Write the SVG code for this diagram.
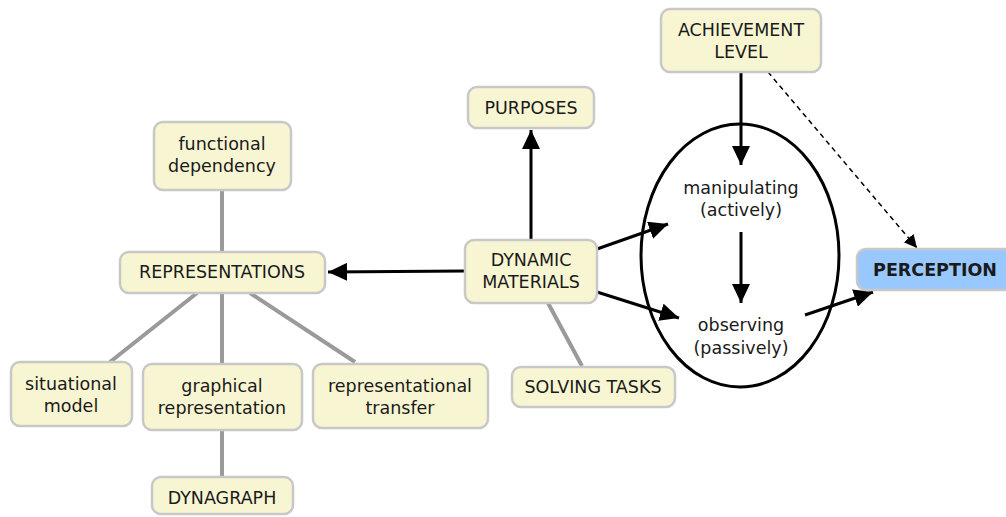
<svg xmlns="http://www.w3.org/2000/svg" width="1006" height="517" viewBox="0 0 1006 517">
<defs>
<style>
.box{fill:#f8f6d2;stroke:#c8c8c8;stroke-width:2.5}
.blue{fill:#99c8ff;stroke:#c8c8c8;stroke-width:2.5}
text{font-family:"DejaVu Sans",Verdana,sans-serif;font-size:17.5px;fill:#1a1a1a;text-anchor:middle}
.b{font-weight:bold}
.g{stroke:#9a9a9a;stroke-width:4;fill:none}
.a{stroke:#000;stroke-width:3;fill:none}
.d{stroke:#000;stroke-width:1.5;fill:none;stroke-dasharray:5,4}
</style>
<marker id="ah" markerUnits="userSpaceOnUse" markerWidth="20" markerHeight="18" refX="19" refY="9" orient="auto">
<path d="M0,0 L19,9 L0,18 z" fill="#000"/>
</marker>
<marker id="ahs" markerUnits="userSpaceOnUse" markerWidth="14" markerHeight="14" refX="13" refY="6.5" orient="auto">
<path d="M0,0 L13,6.5 L0,13 z" fill="#000"/>
</marker>
</defs>
<g id="connectors">
<line class="g" x1="222" y1="190" x2="222" y2="252"/>
<line class="g" x1="197" y1="293" x2="110" y2="362"/>
<line class="g" x1="222" y1="293" x2="222" y2="364"/>
<line class="g" x1="250" y1="293" x2="355" y2="362"/>
<line class="g" x1="222" y1="430" x2="222" y2="477"/>
<line class="g" x1="548" y1="303" x2="582" y2="366"/>
<line class="a" x1="465" y1="271" x2="328" y2="272" marker-end="url(#ah)"/>
<line class="a" x1="531" y1="240" x2="531" y2="130" marker-end="url(#ah)"/>
<line class="a" x1="597" y1="249" x2="668" y2="224" marker-end="url(#ah)"/>
<line class="a" x1="597" y1="292" x2="679" y2="318" marker-end="url(#ah)"/>
<line class="a" x1="741" y1="72" x2="741" y2="165" marker-end="url(#ah)"/>
<line class="a" x1="741" y1="232" x2="741" y2="303" marker-end="url(#ah)"/>
<line class="a" x1="805" y1="315" x2="873" y2="292" marker-end="url(#ah)"/>
<line class="d" x1="768" y1="72" x2="917" y2="248" marker-end="url(#ahs)"/>
</g>
<g id="functional-dependency">
<rect class="box" x="154" y="122" width="137" height="68" rx="9"/>
<text x="222" y="150">functional</text>
<text x="222" y="172">dependency</text>
</g>
<g id="representations">
<rect class="box" x="120" y="252" width="205" height="41" rx="9"/>
<text x="222" y="278">REPRESENTATIONS</text>
</g>
<g id="situational-model">
<rect class="box" x="11" y="362" width="121" height="64" rx="9"/>
<text x="71" y="390">situational</text>
<text x="71" y="412">model</text>
</g>
<g id="graphical-representation">
<rect class="box" x="143" y="364" width="159" height="66" rx="9"/>
<text x="222" y="392">graphical</text>
<text x="222" y="414">representation</text>
</g>
<g id="representational-transfer">
<rect class="box" x="313" y="364" width="175" height="64" rx="9"/>
<text x="400" y="392">representational</text>
<text x="400" y="414">transfer</text>
</g>
<g id="dynagraph">
<rect class="box" x="152" y="477" width="141" height="37" rx="9"/>
<text x="222" y="504">DYNAGRAPH</text>
</g>
<g id="purposes">
<rect class="box" x="468" y="87" width="126" height="41" rx="9"/>
<text x="531" y="114">PURPOSES</text>
</g>
<g id="dynamic-materials">
<rect class="box" x="465" y="240" width="132" height="63" rx="9"/>
<text x="531" y="266">DYNAMIC</text>
<text x="531" y="288">MATERIALS</text>
</g>
<g id="solving-tasks">
<rect class="box" x="512" y="367" width="163" height="40" rx="9"/>
<text x="593" y="393">SOLVING TASKS</text>
</g>
<g id="achievement-level">
<rect class="box" x="661" y="9" width="160" height="63" rx="9"/>
<text x="741" y="36">ACHIEVEMENT</text>
<text x="741" y="58">LEVEL</text>
</g>
<g id="ellipse-group">
<ellipse cx="740" cy="255.5" rx="99" ry="131.5" fill="none" stroke="#000" stroke-width="3"/>
</g>
<g id="manipulating">
<text x="741" y="194">manipulating</text>
<text x="741" y="216">(actively)</text>
</g>
<g id="observing">
<text x="741" y="331">observing</text>
<text x="741" y="354">(passively)</text>
</g>
<g id="perception">
<rect class="blue" x="857" y="249" width="160" height="41" rx="9"/>
<text class="b" x="935" y="276">PERCEPTION</text>
</g>
</svg>
